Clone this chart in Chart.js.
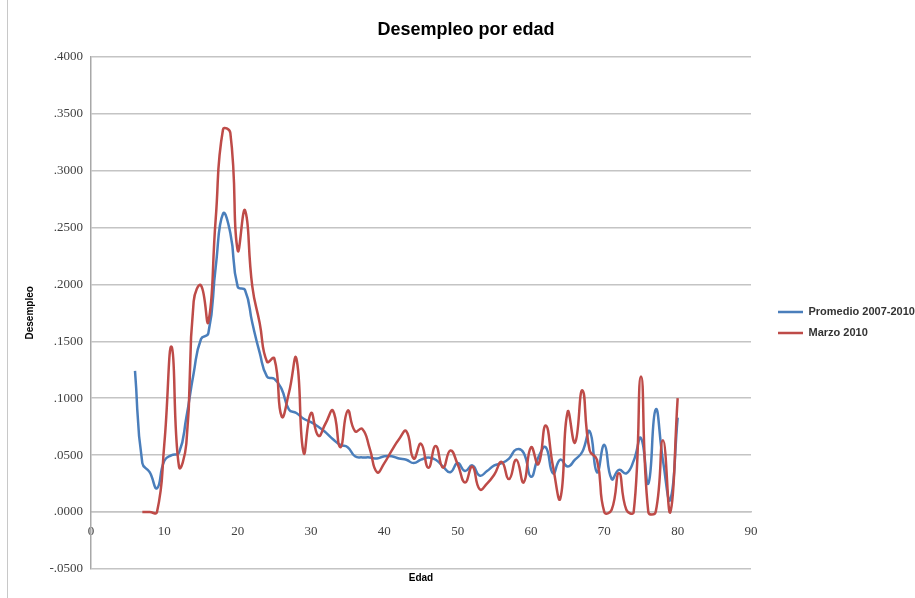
<!DOCTYPE html>
<html><head><meta charset="utf-8">
<script src="https://cdn.jsdelivr.net/npm/chart.js@4.4.0/dist/chart.umd.min.js"></script>
<style>html,body{margin:0;padding:0;background:#fff;overflow:hidden}</style>
</head><body>
<canvas id="c" width="915" height="598"></canvas>
<script>
// ---- data ----
const edadesPromedio = [6,7,8,9,10,11,12,13,14,15,16,17,18,19,20,21,22,23,24,25,26,27,28,29,30,31,32,33,34,35,36,37,38,39,40,41,42,43,44,45,46,47,48,49,50,51,52,53,54,55,56,57,58,59,60,61,62,63,64,65,66,67,68,69,70,71,72,73,74,75,76,77,78,79,80];
const promedio = [0.124,0.043,0.035,0.021,0.045,0.050,0.052,0.083,0.122,0.152,0.157,0.215,0.262,0.245,0.198,0.195,0.166,0.140,0.119,0.117,0.108,0.090,0.087,0.082,0.079,0.075,0.070,0.064,0.059,0.057,0.049,0.048,0.048,0.047,0.049,0.049,0.047,0.046,0.043,0.046,0.048,0.046,0.040,0.035,0.043,0.036,0.041,0.032,0.036,0.041,0.043,0.047,0.055,0.052,0.031,0.048,0.057,0.034,0.046,0.040,0.046,0.053,0.071,0.035,0.059,0.029,0.037,0.034,0.045,0.065,0.025,0.090,0.045,0.011,0.083];
const edadesMarzo = [7,8,9,10,11,12,13,14,15,16,17,18,19,20,21,22,23,24,25,26,27,28,29,30,31,32,33,34,35,36,37,38,39,40,41,42,43,44,45,46,47,48,49,50,51,52,53,54,55,56,57,58,59,60,61,62,63,64,65,66,67,68,69,70,71,72,73,74,75,76,77,78,79,80];
const marzo = [0.000,0.000,0.000,0.060,0.145,0.040,0.060,0.185,0.199,0.167,0.257,0.336,0.333,0.230,0.265,0.198,0.166,0.132,0.135,0.084,0.105,0.135,0.052,0.087,0.067,0.078,0.089,0.057,0.089,0.071,0.073,0.056,0.035,0.043,0.054,0.064,0.071,0.047,0.060,0.039,0.058,0.039,0.054,0.042,0.026,0.040,0.020,0.025,0.033,0.044,0.029,0.046,0.026,0.057,0.042,0.076,0.040,0.012,0.088,0.061,0.107,0.054,0.046,0.000,0.002,0.034,0.002,0.000,0.119,0.000,0.000,0.063,0.000,0.100];
const xTicks = [0,10,20,30,40,50,60,70,80,90];
const yTicks = [-0.05,0,0.05,0.1,0.15,0.2,0.25,0.3,0.35,0.4];
const seriesNames = ['Promedio 2007-2010','Marzo 2010'];

function fmt(v){
  const s = Math.abs(v).toFixed(4).replace(/^0/, '');
  return (v < -1e-9 ? '-' : '') + s;
}

const extras = {
  id: 'extras',
  afterLayout(chart){
    const lg = chart.legend;
    const w = lg.width, h = lg.height;
    lg.left = 768; lg.right = 768 + w;
    lg.top = 296.5; lg.bottom = 296.5 + h;
  },
  afterDraw(chart){
    const ctx = chart.ctx, ca = chart.chartArea;
    ctx.save();
    ctx.font = 'bold 10px "Liberation Sans"';
    ctx.fillStyle = '#000';
    ctx.textAlign = 'center';
    ctx.textBaseline = 'middle';
    ctx.fillText('Edad', (ca.left + ca.right) / 2, 578);
    ctx.strokeStyle = '#c8c8c8';
    ctx.lineWidth = 1;
    ctx.beginPath(); ctx.moveTo(7.5, 0); ctx.lineTo(7.5, 598); ctx.stroke();
    ctx.restore();
  }
};

new Chart(document.getElementById('c'), {
  type: 'line',
  data: {
    datasets: [
      { label: seriesNames[0], data: edadesPromedio.map((e,i)=>({x:e,y:promedio[i]})), borderColor: '#4a7ebb', backgroundColor: '#4a7ebb', borderWidth: 2.5, pointRadius: 0, tension: 0.5, fill: false, order: 1 },
      { label: seriesNames[1], data: edadesMarzo.map((e,i)=>({x:e,y:marzo[i]})), borderColor: '#be4b48', backgroundColor: '#be4b48', borderWidth: 2.5, pointRadius: 0, tension: 0.5, fill: false, order: 0 }
    ]
  },
  options: {
    responsive: false,
    animation: false,
    devicePixelRatio: 1,
    layout: { padding: { left: 17, right: 0, top: 0, bottom: 29 } },
    scales: {
      x: {
        type: 'linear', position: { y: 0 }, min: 0, max: 90,
        afterBuildTicks(s){ s.ticks = xTicks.map(v => ({ value: v })); },
        grid: { display: false, drawTicks: false },
        border: { display: true, color: '#c4c4c4', width: 1.5 },
        ticks: { padding: 12, maxRotation: 0, color: '#404040', font: { family: 'Liberation Serif', size: 13 } }
      },
      y: {
        type: 'linear', position: 'left', min: -0.05, max: 0.4,
        afterBuildTicks(s){ s.ticks = yTicks.map(v => ({ value: v })); },
        afterFit(s){ s.width = 74; },
        grid: { color: '#c4c4c4', lineWidth: 1.5, drawTicks: false },
        border: { color: '#a8a8a8', width: 1.5 },
        ticks: { padding: 8, color: '#404040', font: { family: 'Liberation Serif', size: 13 }, callback: v => fmt(v) },
        title: { display: true, text: 'Desempleo', color: '#000', font: { family: 'Liberation Sans', size: 10, weight: 'bold' }, padding: { top: 7, bottom: 0 } }
      },
      pad: {
        type: 'linear', position: 'right', display: true,
        afterFit(s){ s.width = 164; },
        grid: { display: false, drawTicks: false },
        border: { display: false },
        ticks: { display: false }
      }
    },
    plugins: {
      title: { display: true, text: 'Desempleo por edad', color: '#000', font: { family: 'Liberation Sans', size: 18, weight: 'bold' }, padding: { top: 19, bottom: 16 } },
      legend: {
        position: 'chartArea', align: 'start',
        labels: {
          usePointStyle: true, pointStyle: 'line', pointStyleWidth: 25, padding: 10,
          color: '#333', font: { family: 'Liberation Sans', size: 11, weight: 'bold' },
          sort: (a, b) => a.datasetIndex - b.datasetIndex
        }
      },
      tooltip: { enabled: false }
    }
  },
  plugins: [extras]
});
</script>
</body></html>
